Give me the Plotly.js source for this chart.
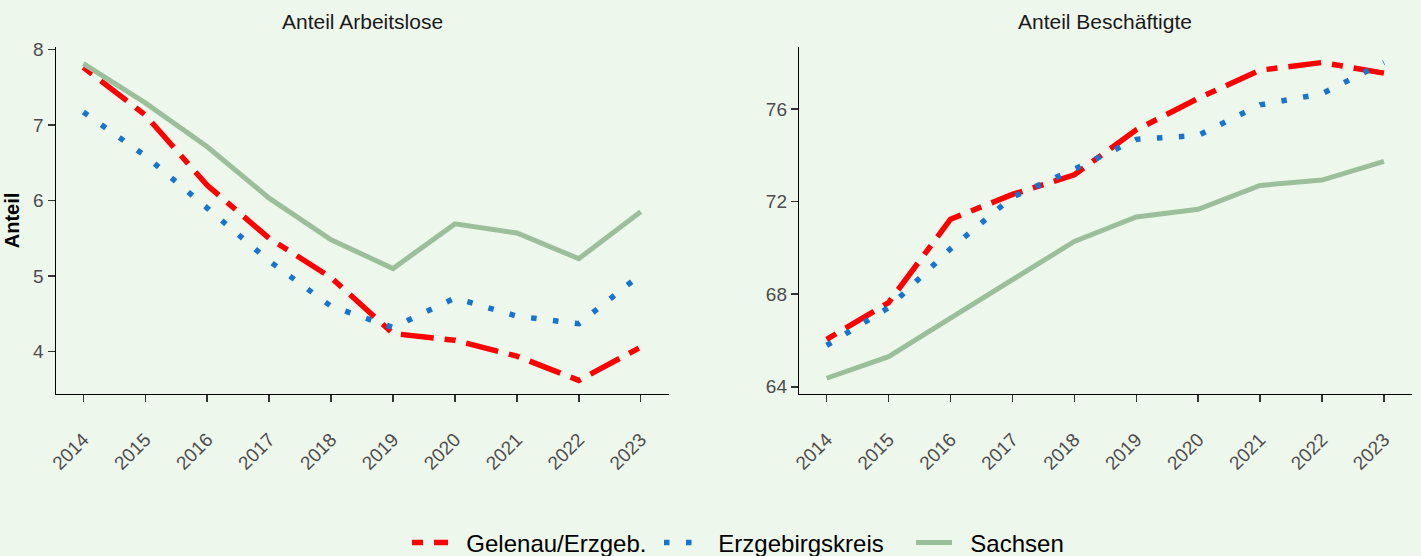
<!DOCTYPE html>
<html>
<head>
<meta charset="utf-8">
<script src="https://cdn.plot.ly/plotly-3.0.1.min.js"></script>
<style>html,body{margin:0;padding:0;background:#eef7ec;}#chart{width:1421px;height:556px;}</style>
</head>
<body>
<div id="chart"></div>
<script>
const years = [2014, 2015, 2016, 2017, 2018, 2019, 2020, 2021, 2022, 2023];
const seriesNames = ["Gelenau/Erzgeb.", "Erzgebirgskreis", "Sachsen"];
const panelTitles = ["Anteil Arbeitslose", "Anteil Beschäftigte"];
const yTitle = "Anteil";

// Anteil Arbeitslose
const alGelenau = [7.76, 7.13, 6.20, 5.50, 4.98, 4.24, 4.15, 3.94, 3.62, 4.06];
const alErz     = [7.17, 6.59, 5.90, 5.20, 4.60, 4.32, 4.71, 4.47, 4.37, 5.02];
const alSachsen = [7.81, 7.29, 6.71, 6.03, 5.48, 5.10, 5.69, 5.57, 5.23, 5.85];

// Anteil Beschäftigte
const beGelenau = [66.05, 67.64, 71.24, 72.31, 73.16, 75.10, 76.46, 77.68, 78.01, 77.55];
const beErz     = [65.79, 67.42, 69.96, 72.20, 73.40, 74.69, 74.86, 76.18, 76.66, 78.01];
const beSachsen = [64.37, 65.30, 66.97, 68.62, 70.28, 71.34, 71.67, 72.70, 72.93, 73.74];

const alTicks = [4, 5, 6, 7, 8];
const beTicks = [64, 68, 72, 76];

const styles = [
  {color: "#ff0000", width: 5.5, dash: "11px,11px,33px,11px"},
  {color: "#1874cd", width: 5.5, dash: "5.5px,16.5px"},
  {color: "#9bbf9b", width: 5, dash: "solid"}
];

const leftData = [alGelenau, alErz, alSachsen];
const rightData = [beGelenau, beErz, beSachsen];

const pad = "\u00a0\u00a0";
const traces = [];
leftData.forEach((vals, i) => {
  traces.push({x: years, y: vals, type: "scatter", mode: "lines", name: pad + seriesNames[i],
    legendgroup: seriesNames[i], showlegend: true, xaxis: "x", yaxis: "y",
    line: styles[i], hoverinfo: "x+y"});
});
rightData.forEach((vals, i) => {
  traces.push({x: years, y: vals, type: "scatter", mode: "lines", name: seriesNames[i],
    legendgroup: seriesNames[i], showlegend: false, xaxis: "x2", yaxis: "y2",
    line: styles[i], hoverinfo: "x+y"});
});

const W = 1421, H = 556;
const left1 = 55.5 / W, right1 = 668.6 / W;
const left2 = 798.8 / W, right2 = 1411.8 / W;
const domTop = 1 - 47 / H, domBottom = 1 - 394 / H;

const tickFont = {family: "Liberation Sans, Arial, sans-serif", size: 19, color: "#4d4d4d"};
const xCommon = {
  range: [2013.55, 2023.45], tickvals: years, ticktext: years.map(String),
  tickangle: -45, ticks: "outside", ticklen: 7, tickwidth: 1.5, tickcolor: "#333333",
  showline: true, linecolor: "#000000", linewidth: 1, showgrid: false, zeroline: false,
  tickfont: tickFont, ticklabelstandoff: 19, fixedrange: true, automargin: false
};
const yCommon = {
  ticks: "outside", ticklen: 7, tickwidth: 1.5, tickcolor: "#333333",
  showline: true, linecolor: "#000000", linewidth: 1, showgrid: false, zeroline: false,
  tickfont: tickFont, fixedrange: true, automargin: false
};

const layout = {
  width: W, height: H,
  margin: {l: 0, r: 0, t: 0, b: 0, autoexpand: false},
  paper_bgcolor: "#eef7ec", plot_bgcolor: "#eef7ec",
  font: {family: "Liberation Sans, Arial, sans-serif"},
  showlegend: true,
  legend: {orientation: "h", x: 407 / W, xanchor: "left", y: 1 - 543 / H, yanchor: "middle",
    font: {size: 24, color: "#000000"}, bgcolor: "rgba(0,0,0,0)", itemwidth: 36, entrywidth: 201},
  xaxis: Object.assign({}, xCommon, {domain: [left1, right1], anchor: "y"}),
  yaxis: Object.assign({}, yCommon, {domain: [domBottom, domTop], anchor: "x",
    range: [3.44, 8.03], tickvals: alTicks, ticktext: alTicks.map(String),
    title: {text: "<b>" + yTitle + "</b>", font: {size: 20, color: "#000000"}, standoff: 8}}),
  xaxis2: Object.assign({}, xCommon, {domain: [left2, right2], anchor: "y2"}),
  yaxis2: Object.assign({}, yCommon, {domain: [domBottom, domTop], anchor: "x2",
    range: [63.69, 78.68], tickvals: beTicks, ticktext: beTicks.map(String)}),
  annotations: [
    {text: panelTitles[0], xref: "paper", yref: "paper", x: (left1 + right1) / 2, y: 1 - 22 / H,
     xanchor: "center", yanchor: "middle", showarrow: false, font: {size: 21, color: "#1a1a1a"}},
    {text: panelTitles[1], xref: "paper", yref: "paper", x: (left2 + right2) / 2, y: 1 - 22 / H,
     xanchor: "center", yanchor: "middle", showarrow: false, font: {size: 21, color: "#1a1a1a"}}
  ]
};

Plotly.newPlot("chart", traces, layout, {displayModeBar: false, staticPlot: true});
</script>
</body>
</html>
